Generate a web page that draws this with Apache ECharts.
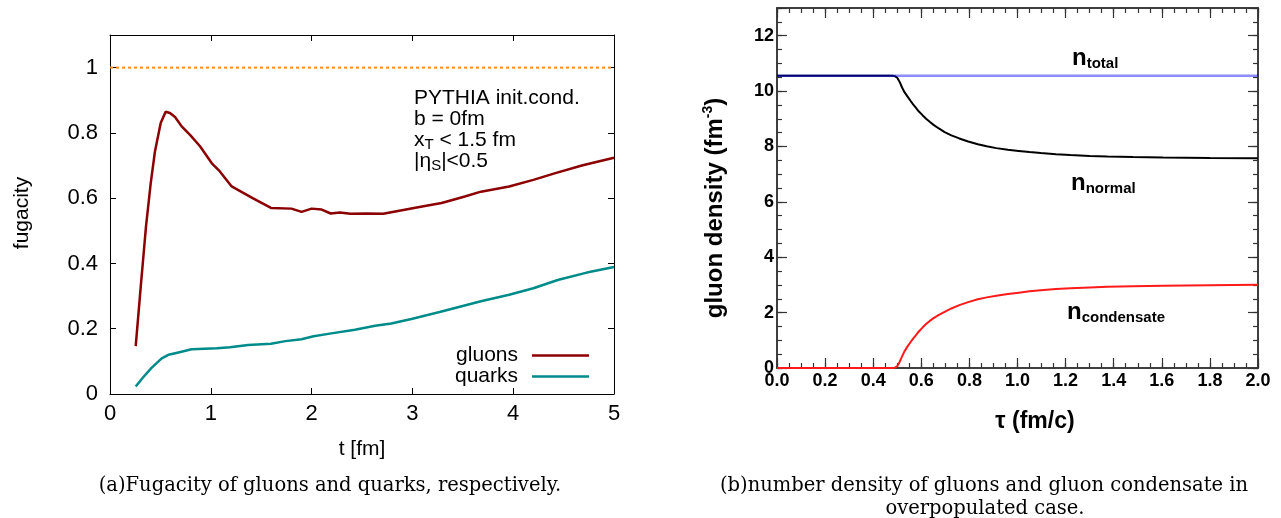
<!DOCTYPE html>
<html>
<head>
<meta charset="utf-8">
<script src="https://cdn.jsdelivr.net/npm/echarts@6/dist/echarts.min.js"></script>
<style>
html, body { margin: 0; padding: 0; background: #fff; }
#main { width: 1281px; height: 518px; }
</style>
</head>
<body>
<div id="main"></div>
<script>
// (a) fugacity vs t [fm]
var tGluon = [0.255, 0.305, 0.357, 0.404, 0.446, 0.503, 0.552, 0.595, 0.645, 0.711, 0.794, 0.893, 1.01, 1.09, 1.207,
  1.415, 1.597, 1.80, 1.90, 2.00, 2.10, 2.19, 2.28, 2.385, 2.55, 2.71, 2.91, 3.11, 3.29, 3.52, 3.68, 3.96, 4.20, 4.41, 4.69, 5.0];
var fGluon = [0.147, 0.329, 0.513, 0.646, 0.743, 0.830, 0.865, 0.861, 0.849, 0.820, 0.794, 0.759, 0.707, 0.682, 0.636,
  0.600, 0.570, 0.568, 0.558, 0.568, 0.565, 0.553, 0.556, 0.552, 0.553, 0.552, 0.564, 0.575, 0.585, 0.605, 0.620, 0.636, 0.656, 0.676, 0.701, 0.724];
var tQuark = [0.255, 0.323, 0.412, 0.513, 0.579, 0.647, 0.81, 1.06, 1.19, 1.37, 1.597, 1.74, 1.90, 2.02, 2.18, 2.43,
  2.63, 2.79, 2.99, 3.27, 3.48, 3.68, 3.96, 4.20, 4.45, 4.73, 5.0];
var fQuark = [0.023, 0.049, 0.080, 0.109, 0.120, 0.125, 0.137, 0.140, 0.143, 0.150, 0.154, 0.162, 0.168, 0.177, 0.185, 0.197,
  0.209, 0.216, 0.230, 0.251, 0.268, 0.284, 0.304, 0.324, 0.350, 0.372, 0.389];
var tUnity = [0, 5];
var fUnity = [1, 1];

// (b) gluon density vs tau (fm/c)
var tauNormal = [0, 0.48, 0.49, 0.50, 0.51, 0.52, 0.53, 0.543, 0.555, 0.566, 0.578, 0.589, 0.605, 0.62, 0.635, 0.651, 0.673, 0.697,
  0.725, 0.758, 0.795, 0.835, 0.872, 0.912, 0.96, 1.005, 1.05, 1.097, 1.16, 1.22, 1.30, 1.374, 1.48, 1.605, 1.80, 2.0];
var nNormal = [10.55, 10.55, 10.54, 10.48, 10.33, 10.13, 9.96, 9.80, 9.65, 9.52, 9.39, 9.27, 9.13, 9.00, 8.89, 8.78, 8.65, 8.52,
  8.40, 8.29, 8.18, 8.08, 8.01, 7.94, 7.88, 7.84, 7.80, 7.76, 7.72, 7.69, 7.66, 7.64, 7.62, 7.60, 7.58, 7.57];
var tauCond = [0, 0.48, 0.49, 0.50, 0.51, 0.52, 0.53, 0.543, 0.555, 0.566, 0.578, 0.589, 0.605, 0.62, 0.635, 0.651, 0.673, 0.697,
  0.725, 0.758, 0.795, 0.835, 0.872, 0.912, 0.96, 1.005, 1.05, 1.097, 1.16, 1.22, 1.30, 1.374, 1.48, 1.605, 1.80, 2.0];
var nCond = [0, 0, 0.01, 0.06, 0.22, 0.42, 0.60, 0.78, 0.93, 1.06, 1.19, 1.31, 1.46, 1.59, 1.70, 1.80, 1.92, 2.03,
  2.15, 2.27, 2.38, 2.48, 2.55, 2.61, 2.67, 2.72, 2.77, 2.81, 2.85, 2.88, 2.91, 2.93, 2.95, 2.97, 2.99, 3.01];
var tauTotal = [0, 2.0];
var nTotal = [10.55, 10.55];

function pairs(xs, ys) {
  return xs.map(function (x, i) { return [x, ys[i]]; });
}

var sans = '"Liberation Sans", Arial, sans-serif';
var serif = '"DejaVu Serif", "Liberation Serif", serif';

function leftAxis(dim, pos, min, max, interval, labels) {
  return {
    type: 'value', gridIndex: 0, position: pos, min: min, max: max, interval: interval,
    axisLine: { show: true, onZero: false, lineStyle: { color: '#000', width: 1 } },
    axisTick: { show: true, inside: true, length: 6, lineStyle: { color: '#000', width: 1 } },
    axisLabel: labels ? {
      show: true, color: '#000', fontSize: 22, fontFamily: sans,
      margin: dim === 'x' ? 9 : 12,
      formatter: function (v) { return v > 1.05 && dim === 'y' ? '' : String(v); }
    } : { show: false },
    splitLine: { show: false }
  };
}

function rightAxis(dim, pos, min, max, interval, len, labels) {
  return {
    type: 'value', gridIndex: 1, position: pos, min: min, max: max, interval: interval,
    axisLine: { show: true, onZero: false, lineStyle: { color: '#333', width: 1.5 } },
    axisTick: { show: true, inside: true, length: len, lineStyle: { color: '#333', width: 1.2 } },
    axisLabel: labels ? {
      show: true, color: '#000', fontSize: 18, fontWeight: 'bold', fontFamily: sans,
      margin: dim === 'x' ? 4 : 3,
      formatter: function (v) { return dim === 'x' ? v.toFixed(1) : (v > 12.5 ? '' : String(v)); }
    } : { show: false },
    splitLine: { show: false }
  };
}

var subBold = { fontSize: 15, fontWeight: 'bold', fontFamily: sans, padding: [11, 0, 0, 0] };

var chart = echarts.init(document.getElementById('main'));

var option = {
  animation: false,
  backgroundColor: '#fff',
  grid: [
    { left: 110, top: 35, width: 504, height: 359, outerBoundsMode: 'none', containLabel: false },
    { left: 777, top: 8, width: 481, height: 360, outerBoundsMode: 'none', containLabel: false }
  ],
  xAxis: [
    leftAxis('x', 'bottom', 0, 5, 1, true),
    leftAxis('x', 'top', 0, 5, 1, false),
    rightAxis('x', 'bottom', 0, 2, 0.2, 10, true),
    rightAxis('x', 'bottom', 0, 2, 0.05, 5, false),
    rightAxis('x', 'top', 0, 2, 0.2, 10, false),
    rightAxis('x', 'top', 0, 2, 0.05, 5, false)
  ],
  yAxis: [
    leftAxis('y', 'left', 0, 1.1, 0.2, true),
    leftAxis('y', 'right', 0, 1.1, 0.2, false),
    rightAxis('y', 'left', 0, 13, 2, 10, true),
    rightAxis('y', 'left', 0, 13, 0.5, 5, false),
    rightAxis('y', 'right', 0, 13, 2, 10, false),
    rightAxis('y', 'right', 0, 13, 0.5, 5, false)
  ],
  legend: {
    show: true,
    orient: 'vertical',
    right: 692,
    top: 345,
    align: 'right',
    itemWidth: 57,
    itemHeight: 2.5,
    itemGap: 0,
    padding: 0,
    icon: 'rect',
    textStyle: { fontSize: 21, lineHeight: 21, color: '#000', fontFamily: sans, padding: [0, 9, 0, 0] },
    data: ['gluons', 'quarks']
  },
  series: [
    {
      name: 'unity', type: 'line', xAxisIndex: 0, yAxisIndex: 0, showSymbol: false, silent: true,
      lineStyle: { color: '#ff8c1a', width: 2, type: [3, 3] },
      data: pairs(tUnity, fUnity)
    },
    {
      name: 'gluons', type: 'line', xAxisIndex: 0, yAxisIndex: 0, showSymbol: false,
      itemStyle: { color: '#8b0000' },
      lineStyle: { color: '#8b0000', width: 2.5 },
      data: pairs(tGluon, fGluon)
    },
    {
      name: 'quarks', type: 'line', xAxisIndex: 0, yAxisIndex: 0, showSymbol: false,
      itemStyle: { color: '#008b8b' },
      lineStyle: { color: '#008b8b', width: 2.5 },
      data: pairs(tQuark, fQuark)
    },
    {
      name: 'n_normal', type: 'line', xAxisIndex: 2, yAxisIndex: 2, showSymbol: false,
      lineStyle: { color: '#000', width: 2 },
      data: pairs(tauNormal, nNormal)
    },
    {
      name: 'n_total', type: 'line', xAxisIndex: 2, yAxisIndex: 2, showSymbol: false,
      lineStyle: { color: '#0000ff', width: 2.5, opacity: 0.45 },
      data: pairs(tauTotal, nTotal)
    },
    {
      name: 'n_condensate', type: 'line', xAxisIndex: 2, yAxisIndex: 2, showSymbol: false,
      lineStyle: { color: '#ff1a1a', width: 2 },
      data: pairs(tauCond, nCond)
    }
  ],
  graphic: [
    // left panel texts
    {
      type: 'text', left: 414, top: 88,
      style: {
        text: 'PYTHIA init.cond.\nb = 0fm\nx{sub|T} < 1.5 fm\n|η{sub|S}|<0.5',
        font: '21px ' + sans, fill: '#000', lineHeight: 21,
        rich: { sub: { fontSize: 15, fontFamily: sans, padding: [9, 0, 0, 0], lineHeight: 21 } }
      }
    },
    {
      type: 'text', x: 22, y: 213, rotation: Math.PI / 2,
      style: { text: 'fugacity', font: '21px ' + sans, fill: '#000', align: 'center', verticalAlign: 'middle' }
    },
    {
      type: 'text', x: 362, y: 449,
      style: { text: 't [fm]', font: '21px ' + sans, fill: '#000', align: 'center', verticalAlign: 'middle' }
    },
    {
      type: 'text', x: 330, y: 486,
      style: { text: '(a)Fugacity of gluons and quarks, respectively.', font: '19.5px ' + serif, fill: '#000', align: 'center', verticalAlign: 'middle' }
    },
    // right panel texts
    {
      type: 'text', left: 1072, top: 46,
      style: { text: 'n{sub|total}', font: 'bold 24px ' + sans, fill: '#000', rich: { sub: subBold } }
    },
    {
      type: 'text', left: 1071, top: 171,
      style: { text: 'n{sub|normal}', font: 'bold 24px ' + sans, fill: '#000', rich: { sub: subBold } }
    },
    {
      type: 'text', left: 1067, top: 300,
      style: { text: 'n{sub|condensate}', font: 'bold 24px ' + sans, fill: '#000', rich: { sub: subBold } }
    },
    {
      type: 'text', x: 1035, y: 422,
      style: { text: 'τ (fm/c)', font: 'bold 23px ' + sans, fill: '#000', align: 'center', verticalAlign: 'middle' }
    },
    {
      type: 'text', x: 715, y: 208, rotation: Math.PI / 2,
      style: {
        text: 'gluon density (fm{sup|-3})', font: 'bold 24px ' + sans, fill: '#000',
        align: 'center', verticalAlign: 'middle',
        rich: { sup: { fontSize: 14, fontWeight: 'bold', fontFamily: sans, padding: [0, 0, 14, 0] } }
      }
    },
    {
      type: 'text', x: 984, y: 486,
      style: { text: '(b)number density of gluons and gluon condensate in', font: '19.5px ' + serif, fill: '#000', align: 'center', verticalAlign: 'middle' }
    },
    {
      type: 'text', x: 985, y: 509,
      style: { text: 'overpopulated case.', font: '19.5px ' + serif, fill: '#000', align: 'center', verticalAlign: 'middle' }
    }
  ]
};

chart.setOption(option);
</script>
</body>
</html>
